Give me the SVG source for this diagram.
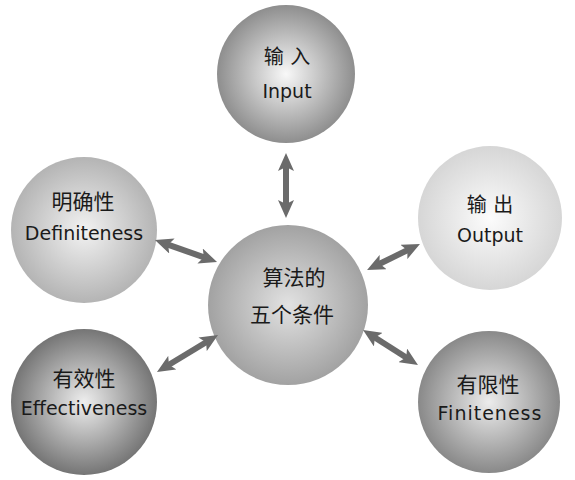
<svg xmlns="http://www.w3.org/2000/svg" width="575" height="480" viewBox="0 0 575 480">
<style>
text{font-family:"DejaVu Sans","Noto Sans CJK SC",sans-serif;fill:#1a1a1a;text-anchor:middle;font-size:19px}
.cn{font-size:21px}
.c2{font-size:20px}
.cc{font-size:21px}
.conn line{stroke:#6b6b6b;stroke-width:6;marker-start:url(#ah);marker-end:url(#ah)}
</style>
<defs>
<marker id="ah" markerUnits="userSpaceOnUse" markerWidth="18" markerHeight="16" viewBox="0 0 18 16" refX="5" refY="8" orient="auto-start-reverse">
<path d="M0,0 L18,8 L0,16 L4,8 z" fill="#6b6b6b"/>
</marker>
<radialGradient id="gIn"><stop offset="0" stop-color="#f8f8f8"/><stop offset="1" stop-color="#8e8e8e"/></radialGradient>
<radialGradient id="gDef"><stop offset="0" stop-color="#f2f2f2"/><stop offset="1" stop-color="#b4b4b4"/></radialGradient>
<radialGradient id="gOut"><stop offset="0" stop-color="#fcfcfc"/><stop offset="1" stop-color="#d6d6d6"/></radialGradient>
<radialGradient id="gC"><stop offset="0" stop-color="#e2e2e2"/><stop offset="1" stop-color="#a2a2a2"/></radialGradient>
<radialGradient id="gEff"><stop offset="0" stop-color="#eeeeee"/><stop offset="1" stop-color="#757575"/></radialGradient>
<radialGradient id="gFin"><stop offset="0" stop-color="#ececec"/><stop offset="1" stop-color="#898989"/></radialGradient>
</defs>
<rect width="575" height="480" fill="#ffffff"/>
<g id="input">
<circle cx="286" cy="74" r="69" fill="url(#gIn)"/>
<text class="c2" x="287" y="64">输 入</text>
<text x="287" y="98">Input</text>
</g>
<g id="definiteness">
<circle cx="84" cy="230" r="73" fill="url(#gDef)"/>
<text class="cn" x="83" y="209">明确性</text>
<text x="84" y="240">Definiteness</text>
</g>
<g id="output">
<circle cx="490" cy="218" r="72" fill="url(#gOut)"/>
<text class="c2" x="490" y="212">输 出</text>
<text x="490" y="242">Output</text>
</g>
<g id="center">
<circle cx="288" cy="305" r="80" fill="url(#gC)"/>
<text class="cc" x="294" y="285">算法的</text>
<text class="cc" x="292" y="322">五个条件</text>
</g>
<g id="effectiveness">
<circle cx="84" cy="402" r="73" fill="url(#gEff)"/>
<text class="cn" x="84" y="386">有效性</text>
<text x="84" y="415">Effectiveness</text>
</g>
<g id="finiteness">
<circle cx="489" cy="402" r="71" fill="url(#gFin)"/>
<text class="cn" x="488" y="392">有限性</text>
<text x="490" y="420" letter-spacing="1">Finiteness</text>
</g>
<g id="connectors" class="conn">
<line x1="286" y1="166" x2="286" y2="205"/>
<line x1="167.2" y1="244.3" x2="204.8" y2="257.7"/>
<line x1="378.7" y1="264.3" x2="408.3" y2="249.7"/>
<line x1="168.1" y1="365.3" x2="206.9" y2="341.7"/>
<line x1="374" y1="337" x2="407" y2="358"/>
</g>
</svg>
